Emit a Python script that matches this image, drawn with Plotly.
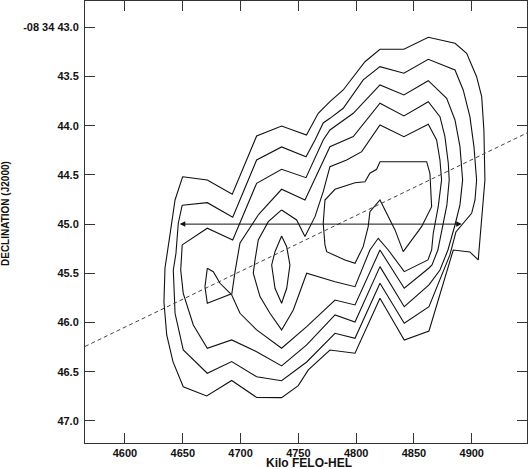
import plotly.graph_objects as go

# position-velocity contours, one closed polyline per level
# velocity in km/s, declination offset in arcsec (-08 34 xx.x)
level1_vel = [4649.9, 4671.2, 4692.8, 4713.9, 4735.5, 4757.0, 4767.2, 4777.3, 4788.8, 4807.6,
              4820.6, 4841.3, 4862.4, 4885.5, 4895.6, 4904.2, 4908.6, 4910.5, 4911.4, 4909.9,
              4908.6, 4907.1, 4905.6, 4898.4, 4884.0, 4863.0, 4841.6, 4820.6, 4799.0, 4777.3,
              4758.6, 4749.9, 4735.5, 4713.9, 4692.3, 4670.7, 4650.4, 4641.5, 4636.1, 4633.7,
              4634.6, 4638.9, 4643.3]
level1_dec = [44.518, 44.551, 44.697, 44.104, 44.003, 44.094, 43.874, 43.756, 43.637, 43.350,
              43.224, 43.224, 43.102, 43.163, 43.264, 43.502, 43.705, 44.043, 44.551, 44.755,
              44.958, 45.161, 45.364, 45.283, 45.263, 46.086, 46.177, 45.753, 46.312, 46.279,
              46.482, 46.641, 46.763, 46.761, 46.589, 46.746, 46.652, 46.397, 46.126, 45.791,
              45.446, 45.110, 44.755]

level2_vel = [4649.5, 4671.2, 4693.2, 4713.9, 4735.5, 4756.6, 4764.4, 4771.5, 4777.3, 4788.8,
              4806.1, 4820.6, 4841.3, 4862.4, 4885.5, 4892.6, 4898.4, 4901.9, 4904.2, 4902.8,
              4899.9, 4892.6, 4886.3, 4881.1, 4863.0, 4841.6, 4820.6, 4799.0, 4781.7, 4757.2,
              4735.5, 4713.9, 4692.3, 4671.2, 4650.4, 4643.3, 4641.8, 4644.1, 4646.1]
level2_dec = [44.808, 44.782, 44.930, 44.348, 44.216, 44.315, 44.145, 43.972, 43.925, 43.823,
              43.535, 43.400, 43.467, 43.325, 43.434, 43.637, 43.908, 44.213, 44.551, 44.755,
              44.890, 44.998, 45.080, 45.313, 45.839, 46.007, 45.601, 46.160, 46.109, 46.401,
              46.591, 46.550, 46.397, 46.515, 46.279, 45.906, 45.466, 45.296, 44.991]

level3_vel = [4649.5, 4671.2, 4693.2, 4713.9, 4735.5, 4756.6, 4771.5, 4777.3, 4797.5, 4820.6,
              4841.3, 4862.4, 4878.3, 4885.5, 4889.8, 4892.1, 4889.8, 4885.5, 4879.4, 4872.5,
              4863.0, 4841.6, 4820.6, 4799.0, 4781.7, 4757.2, 4735.5, 4713.9, 4692.3, 4671.2,
              4659.1, 4650.4, 4648.2]
level3_dec = [45.211, 45.042, 45.161, 44.585, 44.443, 44.528, 44.145, 44.043, 43.874, 43.586,
              43.688, 43.543, 43.721, 43.942, 44.213, 44.551, 44.805, 45.009, 45.263, 45.466,
              45.618, 45.839, 45.432, 45.994, 45.923, 46.228, 46.441, 46.296, 46.177, 46.261,
              46.025, 45.703, 45.466]

level4_vel = [4715.3, 4735.5, 4755.7, 4764.4, 4777.3, 4797.5, 4820.6, 4841.3, 4862.4, 4872.5,
              4876.8, 4879.7, 4880.5, 4878.5, 4875.1, 4870.7, 4865.6, 4863.0, 4841.6, 4820.6,
              4799.0, 4781.7, 4757.2, 4735.5, 4713.9, 4699.5, 4692.3, 4695.2, 4699.5]
level4_dec = [44.907, 44.646, 44.755, 44.531, 44.213, 44.111, 43.772, 43.901, 43.756, 43.908,
              44.111, 44.382, 44.551, 44.805, 45.009, 45.263, 45.415, 45.446, 45.652, 45.263,
              45.821, 45.771, 46.042, 46.261, 46.075, 45.906, 45.720, 45.483, 45.191]

# small level-4 island west of the main body
island_vel = [4671.2, 4676.4, 4682.2, 4691.7, 4671.2, 4669.2]
island_dec = [45.449, 45.483, 45.601, 45.710, 45.804, 45.636]

level5_vel = [4735.5, 4748.5, 4755.7, 4764.4, 4771.5, 4777.3, 4791.8, 4804.8, 4820.6, 4841.3,
              4862.4, 4869.6, 4872.5, 4873.9, 4871.0, 4866.7, 4865.3, 4862.1, 4841.6, 4827.8,
              4819.1, 4811.9, 4799.0, 4781.7, 4757.2, 4745.6, 4735.5, 4725.4, 4716.8, 4711.0,
              4712.5, 4715.3, 4724.0]
level5_dec = [44.856, 44.958, 45.127, 44.924, 44.670, 44.416, 44.348, 44.264, 43.993, 44.111,
              43.986, 44.145, 44.348, 44.551, 44.823, 45.093, 45.263, 45.364, 45.483, 45.263,
              45.144, 45.263, 45.636, 45.585, 45.499, 45.872, 46.075, 45.906, 45.737, 45.499,
              45.364, 45.161, 44.975]

level6_east_vel = [4820.6, 4861.0, 4863.8, 4865.3, 4856.6, 4849.4, 4840.7, 4833.6, 4827.8, 4820.6,
                   4811.9, 4810.4, 4806.1, 4799.0, 4790.3, 4774.5, 4773.0, 4771.5, 4773.0, 4781.7,
                   4799.0, 4807.6, 4811.9, 4817.7]
level6_east_dec = [44.366, 44.366, 44.483, 44.823, 45.026, 45.144, 45.280, 45.059, 44.924, 44.755,
                   44.873, 45.026, 45.229, 45.398, 45.364, 45.280, 45.211, 44.991, 44.755, 44.646,
                   44.579, 44.569, 44.483, 44.443]

level6_west_vel = [4735.5, 4739.9, 4742.7, 4739.9, 4735.5, 4729.8, 4726.9, 4729.8]
level6_west_dec = [45.120, 45.229, 45.415, 45.652, 45.804, 45.652, 45.415, 45.280]

# slit / major axis (dashed) and velocity extent arrow
axis_line_vel = [4565.4, 4947.8]
axis_line_dec = [46.243, 44.074]
arrow_vel = [4646.1, 4891.3]
arrow_dec = 45.0

x_ticks = [4600, 4650, 4700, 4750, 4800, 4850, 4900]
y_ticks = [43.0, 43.5, 44.0, 44.5, 45.0, 45.5, 46.0, 46.5, 47.0]
y_tick_text = ["-08 34 43.0", "43.5", "44.0", "44.5", "45.0", "45.5", "46.0", "46.5", "47.0"]

FONT = "Liberation Sans, Arial, Helvetica, sans-serif"

contours = [
    (level1_vel, level1_dec),
    (level2_vel, level2_dec),
    (level3_vel, level3_dec),
    (level4_vel, level4_dec),
    (island_vel, island_dec),
    (level5_vel, level5_dec),
    (level6_east_vel, level6_east_dec),
    (level6_west_vel, level6_west_dec),
]

fig = go.Figure()
for vel, dec in contours:
    fig.add_trace(
        go.Scatter(
            x=vel + vel[:1],
            y=dec + dec[:1],
            mode="lines",
            line=dict(color="#111111", width=1.1),
            hoverinfo="skip",
        )
    )

fig.add_trace(
    go.Scatter(
        x=axis_line_vel,
        y=axis_line_dec,
        mode="lines",
        line=dict(color="#444444", width=1, dash="4px,3px"),
        hoverinfo="skip",
    )
)

fig.add_annotation(
    x=arrow_vel[1], y=arrow_dec, ax=arrow_vel[0], ay=arrow_dec,
    xref="x", yref="y", axref="x", ayref="y",
    text="", showarrow=True, arrowhead=2, arrowside="end+start",
    arrowsize=1.1, arrowwidth=1, arrowcolor="#111111",
)

axis_style = dict(
    showline=True,
    linecolor="#333333",
    linewidth=1,
    mirror="ticks",
    ticks="inside",
    ticklen=10,
    tickcolor="#333333",
    showgrid=False,
    zeroline=False,
    automargin=False,
    tickfont=dict(family=FONT, size=11, color="#111111", weight="bold"),
)

fig.update_xaxes(range=[4565.4, 4947.8], tickvals=x_ticks, **axis_style)
fig.update_yaxes(range=[47.224, 42.733], tickvals=y_ticks, ticktext=y_tick_text,
                 ticklabelstandoff=3, **axis_style)

fig.add_annotation(
    text="Kilo FELO-HEL", xref="paper", yref="paper", x=0.5, y=0,
    xanchor="center", yanchor="middle", xshift=3, yshift=-20, showarrow=False,
    font=dict(family=FONT, size=12, color="#111111", weight="bold"),
)
fig.add_annotation(
    text="DECLINATION (J2000)", xref="paper", yref="paper", x=0, y=0.5,
    xanchor="center", yanchor="middle", xshift=-80, yshift=8, textangle=-90,
    showarrow=False,
    font=dict(family=FONT, size=10, color="#111111", weight="bold"),
)

fig.update_layout(
    width=529,
    height=469,
    margin=dict(l=85, r=2, t=1, b=26),
    showlegend=False,
    paper_bgcolor="#ffffff",
    plot_bgcolor="#ffffff",
)

# the page body has a default 8px margin; drop it so the figure sits at the corner
fig.write_html(
    "out.html",
    config={"displayModeBar": False},
    post_script="document.body.style.margin = '0';",
)
